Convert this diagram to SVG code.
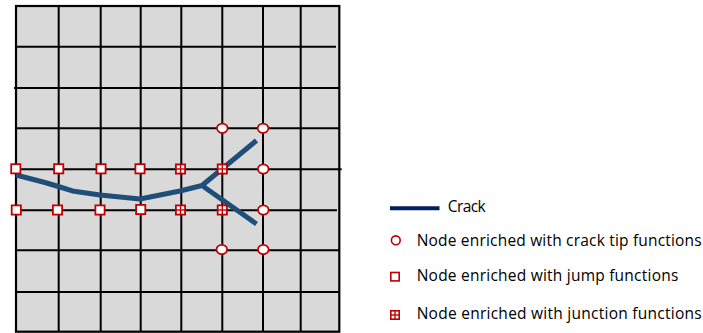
<svg xmlns="http://www.w3.org/2000/svg" width="703" height="333" viewBox="0 0 703 333">
<style>
.gl{stroke:#000;stroke-width:2;fill:none}
.sq{fill:#fff;stroke:#c00000;stroke-width:1.8}
.jx{stroke:#c00000;stroke-width:1.4}
.ci{fill:#fff;stroke:#c00000;stroke-width:1.7}
.crack{fill:none;stroke:#1f4e79;stroke-width:5;stroke-linejoin:round;stroke-linecap:butt}
.lt{font-family:"Open Sans","Noto Sans",sans-serif;font-size:15.5px;fill:#000}
</style>
<defs>
<g id="sqm"><rect x="-4.6" y="-4.6" width="9.2" height="9.2" class="sq"/></g>
<g id="jnm"><rect x="-4.6" y="-4.6" width="9.2" height="9.2" class="sq"/><line x1="-4.6" y1="0" x2="4.6" y2="0" class="jx"/><line x1="0" y1="-4.6" x2="0" y2="4.6" class="jx"/></g>
<g id="cim"><ellipse cx="0" cy="0" rx="5.3" ry="4.7" class="ci"/></g>
</defs>
<rect width="703" height="333" fill="#fff"/>
<g id="mesh">
<rect x="16" y="6" width="323.3" height="325.7" fill="#d9d9d9"/>
<g class="gl">
<line x1="58.7" y1="6" x2="58.7" y2="331.7"/>
<line x1="100.7" y1="6" x2="100.7" y2="331.7"/>
<line x1="140.7" y1="6" x2="140.7" y2="331.7"/>
<line x1="181.3" y1="6" x2="181.3" y2="331.7"/>
<line x1="222.3" y1="6" x2="222.3" y2="331.7"/>
<line x1="263" y1="6" x2="263" y2="331.7"/>
<line x1="300.7" y1="6" x2="300.7" y2="331.7"/>
<line x1="16" y1="46.7" x2="336" y2="46.7"/>
<line x1="14" y1="88" x2="339.3" y2="88"/>
<line x1="16" y1="128.3" x2="339.3" y2="128.3"/>
<line x1="16" y1="169.3" x2="341.7" y2="169.3"/>
<line x1="16" y1="210.3" x2="337" y2="210.3"/>
<line x1="16" y1="250.3" x2="339.3" y2="250.3"/>
<line x1="16" y1="292" x2="339.3" y2="292"/>
<rect x="16" y="6" width="323.3" height="325.7" stroke-width="2.2"/>
</g>
</g>
<g id="connectors">
<path id="crack" class="crack" d="M16,175 L45,182.5 L60,187 L74,191.3 L100,195 L140,199 L180,191 L202,185.5 L256.5,140.5 M202,185.5 L256.5,224"/>
</g>
<g id="n_r1_1"><use href="#sqm" x="15.8" y="168.8"/></g>
<g id="n_r1_2"><use href="#sqm" x="58.7" y="168.8"/></g>
<g id="n_r1_3"><use href="#sqm" x="101" y="168.8"/></g>
<g id="n_r1_4"><use href="#sqm" x="140" y="168.8"/></g>
<g id="n_r1_5"><use href="#jnm" x="180.5" y="169"/></g>
<g id="n_r1_6"><use href="#jnm" x="222.3" y="169"/></g>
<g id="n_r1_7"><use href="#cim" x="263.2" y="169"/></g>
<g id="n_r2_1"><use href="#sqm" x="16.3" y="210"/></g>
<g id="n_r2_2"><use href="#sqm" x="57.5" y="210"/></g>
<g id="n_r2_3"><use href="#sqm" x="100" y="210"/></g>
<g id="n_r2_4"><use href="#sqm" x="140.7" y="209.5"/></g>
<g id="n_r2_5"><use href="#jnm" x="180.5" y="210"/></g>
<g id="n_r2_6"><use href="#jnm" x="222.3" y="210"/></g>
<g id="n_r2_7"><use href="#cim" x="263.3" y="210"/></g>
<g id="n_t1"><use href="#cim" x="222.3" y="128.3"/></g>
<g id="n_t2"><use href="#cim" x="263" y="128.3"/></g>
<g id="n_b1"><use href="#cim" x="221.8" y="249.5"/></g>
<g id="n_b2"><use href="#cim" x="263.3" y="249.5"/></g>
<g id="legend_crack">
<line x1="390" y1="208.3" x2="439.5" y2="208.3" stroke="#002060" stroke-width="4"/>
<text class="lt" x="447.7" y="211.7" textLength="38" lengthAdjust="spacing">Crack</text>
</g>
<g id="legend_tip">
<circle cx="395.8" cy="240.3" r="4.4" fill="none" stroke="#c00000" stroke-width="1.6"/>
<text class="lt" x="416.7" y="245.7" textLength="285" lengthAdjust="spacing">Node enriched with crack tip functions</text>
</g>
<g id="legend_jump">
<rect x="390.8" y="272.5" width="8.4" height="8.4" fill="none" stroke="#c00000" stroke-width="1.6"/>
<text class="lt" x="416.7" y="280.7" textLength="261.6" lengthAdjust="spacing">Node enriched with jump functions</text>
</g>
<g id="legend_junction">
<rect x="390.8" y="310.8" width="8.4" height="8.4" fill="none" stroke="#c00000" stroke-width="1.6"/>
<line x1="390.8" y1="315" x2="399.2" y2="315" stroke="#c00000" stroke-width="1.4"/>
<line x1="395" y1="310.8" x2="395" y2="319.2" stroke="#c00000" stroke-width="1.4"/>
<text class="lt" x="416.7" y="319" textLength="285" lengthAdjust="spacing">Node enriched with junction functions</text>
</g>
</svg>
